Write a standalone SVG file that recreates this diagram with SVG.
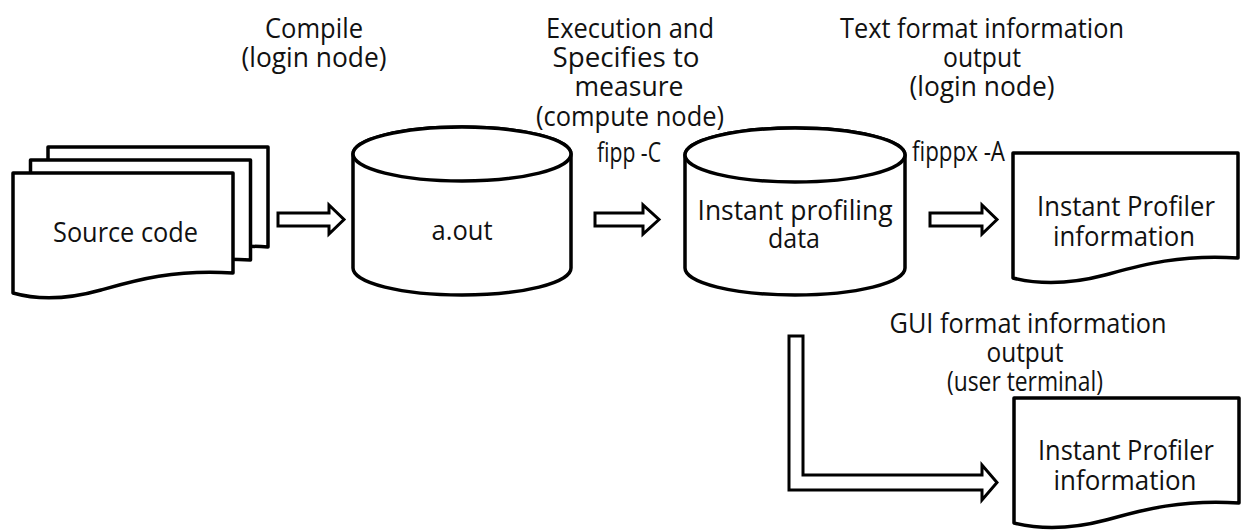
<svg xmlns="http://www.w3.org/2000/svg" width="1243" height="530" viewBox="0 0 1243 530">
  <style>
    .shape { fill: #fff; stroke: #000; stroke-width: 3.5; stroke-linejoin: round; }
    .arrow { fill: #fff; stroke: #000; stroke-width: 3; stroke-linejoin: miter; }
    text { font-family: "Open Sans", "Noto Sans", sans-serif; font-size: 28px; fill: #111; }
    .c { text-anchor: middle; }
  </style>
  <defs>
    <!-- document sheet with a wavy bottom edge, origin at its top-left corner -->
    <path id="doc" d="M0,0 H220 V100 C160,96 120,108 88,117 C56,126 28,128 0,120 Z"/>
    <!-- document used for the profiler output pages -->
    <path id="doc2" d="M0,0 H225 V105 C165,101 125,113 92,122 C58,131 28,132 0,125 Z"/>
  </defs>

  <rect width="1243" height="530" fill="#fff"/>

  <!-- step labels -->
  <g id="labels">
    <text class="c" x="314" y="38" textLength="98" lengthAdjust="spacingAndGlyphs">Compile</text>
    <text class="c" x="314" y="67" textLength="145" lengthAdjust="spacingAndGlyphs">(login node)</text>

    <text class="c" x="630" y="38" textLength="168" lengthAdjust="spacingAndGlyphs">Execution and</text>
    <text class="c" x="626" y="67" textLength="147" lengthAdjust="spacingAndGlyphs">Specifies to</text>
    <text class="c" x="629" y="96" textLength="109" lengthAdjust="spacingAndGlyphs">measure</text>
    <text class="c" x="630" y="126" textLength="188" lengthAdjust="spacingAndGlyphs">(compute node)</text>

    <text class="c" x="982" y="38" textLength="284" lengthAdjust="spacingAndGlyphs">Text format information</text>
    <text class="c" x="982" y="67" textLength="78" lengthAdjust="spacingAndGlyphs">output</text>
    <text class="c" x="982" y="96" textLength="145" lengthAdjust="spacingAndGlyphs">(login node)</text>

    <text x="597" y="162" textLength="64" lengthAdjust="spacingAndGlyphs">fipp -C</text>
    <text x="912" y="161" textLength="93" lengthAdjust="spacingAndGlyphs">fipppx -A</text>

    <text class="c" x="1028" y="333" textLength="277" lengthAdjust="spacingAndGlyphs">GUI format information</text>
    <text class="c" x="1025" y="362" textLength="77" lengthAdjust="spacingAndGlyphs">output</text>
    <text class="c" x="1025" y="391" textLength="156" lengthAdjust="spacingAndGlyphs">(user terminal)</text>
  </g>

  <!-- source code: stack of three sheets -->
  <g id="source-code">
    <use href="#doc" class="shape" transform="translate(48,147)"/>
    <use href="#doc" class="shape" transform="translate(30.5,160)"/>
    <use href="#doc" class="shape" transform="translate(13,173)"/>
    <text class="c" x="125.5" y="242" textLength="145" lengthAdjust="spacingAndGlyphs">Source code</text>
  </g>

  <!-- executable -->
  <g id="a-out">
    <path class="shape" d="M353,154 V268 A109,27 0 0 0 571,268 V154 A109,27 0 0 0 353,154 Z"/>
    <ellipse class="shape" cx="462" cy="154" rx="109" ry="27"/>
    <text class="c" x="462" y="240" textLength="61" lengthAdjust="spacingAndGlyphs">a.out</text>
  </g>

  <!-- profiling data store -->
  <g id="profiling-data">
    <path class="shape" d="M685,155 V268 A110,27 0 0 0 905,268 V155 A110,27 0 0 0 685,155 Z"/>
    <ellipse class="shape" cx="795" cy="155" rx="110" ry="27"/>
    <text class="c" x="795" y="220" textLength="195" lengthAdjust="spacingAndGlyphs">Instant profiling</text>
    <text class="c" x="794" y="248" textLength="52" lengthAdjust="spacingAndGlyphs">data</text>
  </g>

  <!-- text-format output -->
  <g id="text-output">
    <use href="#doc2" class="shape" transform="translate(1013,153)"/>
    <text class="c" x="1126" y="216" textLength="178" lengthAdjust="spacingAndGlyphs">Instant Profiler</text>
    <text class="c" x="1124" y="246" textLength="142" lengthAdjust="spacingAndGlyphs">information</text>
  </g>

  <!-- GUI-format output -->
  <g id="gui-output">
    <use href="#doc2" class="shape" transform="translate(1014,398)"/>
    <text class="c" x="1126" y="460" textLength="176" lengthAdjust="spacingAndGlyphs">Instant Profiler</text>
    <text class="c" x="1125" y="490" textLength="143" lengthAdjust="spacingAndGlyphs">information</text>
  </g>

  <!-- block arrows between the steps -->
  <g id="connectors">
    <path class="arrow" d="M278,213 H329 V205 L344,219.5 L329,234 V226 H278 Z"/>
    <path class="arrow" d="M595,213 H643 V205 L659,219.5 L643,234 V226 H595 Z"/>
    <path class="arrow" d="M930,213 H982 V205 L997,219.5 L982,234 V226 H930 Z"/>
    <path class="arrow" d="M789,336 H803 V475 H982 V465 L997,482.5 L982,500 V490 H789 Z"/>
  </g>
</svg>
